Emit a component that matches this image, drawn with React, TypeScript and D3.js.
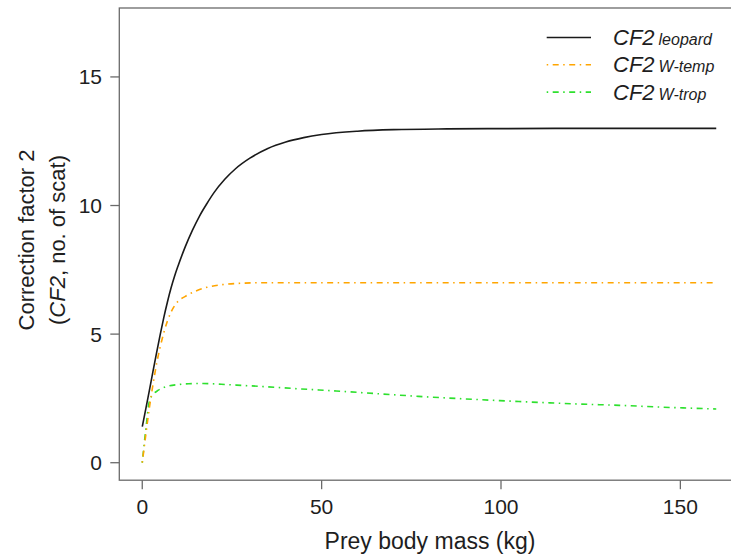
import React from "react";
import * as d3 from "d3";

// Prey body mass (kg) sample points and correction factor values per curve
const leopardMass = [0, 1, 2, 3, 4, 5, 6, 7, 8, 9, 10, 12, 14, 16, 18, 20, 23, 26, 30, 35, 40, 45, 50, 60, 70, 85, 100, 125, 160];
const leopardCF2 = [1.4, 2.1, 2.82, 3.56, 4.28, 4.98, 5.64, 6.24, 6.78, 7.25, 7.66, 8.4, 9.04, 9.6, 10.07, 10.5, 11.02, 11.43, 11.84, 12.22, 12.47, 12.64, 12.76, 12.89, 12.95, 12.98, 12.99, 13.0, 13.0];

const wTempMass = [0, 1, 2, 3, 4, 5, 6, 7, 8, 9, 10, 12, 15, 18, 22, 28, 35, 60, 100, 160];
const wTempCF2 = [0, 1.1, 2.15, 3.05, 3.85, 4.5, 5.05, 5.5, 5.85, 6.1, 6.28, 6.47, 6.68, 6.82, 6.92, 6.98, 7.0, 7.0, 7.0, 7.0];

const wTropMass = [0, 1, 2, 3, 4.5, 7, 10, 13, 17, 22, 26, 35, 44, 54, 66, 77, 90, 105, 120, 133, 145, 160];
const wTropCF2 = [0, 1.3, 2.4, 2.65, 2.82, 2.97, 3.04, 3.07, 3.08, 3.05, 3.02, 2.95, 2.87, 2.79, 2.68, 2.58, 2.48, 2.38, 2.29, 2.23, 2.16, 2.09];

const xTicks = [0, 50, 100, 150];
const yTicks = [0, 5, 10, 15];

const seriesNames = ["leopard", "W-temp", "W-trop"];
const seriesColors = ["#1a1a1a", "#FFA500", "#2ee02e"];
const seriesDash = [null, "1.5 4.5 6 4.5", "1.5 4.5 6 4.5"];

const W = 731;
const H = 560;
const font = "'Liberation Sans', Arial, Helvetica, sans-serif";

export default function App() {
  const x = d3.scaleLinear().domain([-6.4, 166.4]).range([119.3, 739.2]);
  const y = d3.scaleLinear().domain([-0.68, 17.68]).range([480.2, 8]);

  const line = d3
    .line<[number, number]>()
    .x((d) => x(d[0]))
    .y((d) => y(d[1]))
    .curve(d3.curveMonotoneX);

  const series = [
    d3.zip(leopardMass, leopardCF2) as [number, number][],
    d3.zip(wTempMass, wTempCF2) as [number, number][],
    d3.zip(wTropMass, wTropCF2) as [number, number][],
  ];

  const [x0, x1] = x.range();
  const [y0, y1] = y.range();
  const frame = "#6a6a6a";
  const textColor = "#1e1e1e";

  const legendY = [37.5, 64.8, 92.1];

  return (
    <svg
      width={W}
      height={H}
      style={{ position: "absolute", left: 0, top: 0, background: "#fff" }}
      fontFamily={font}
    >
      <rect x={0} y={0} width={W} height={H} fill="#fff" />

      {/* curves, drawn last-to-first so the solid line sits on top */}
      {series
        .map((s, i) => (
          <path
            key={seriesNames[i]}
            d={line(s) || ""}
            fill="none"
            stroke={seriesColors[i]}
            strokeWidth={1.6}
            strokeDasharray={seriesDash[i] || undefined}
          />
        ))
        .reverse()}

      {/* plot frame */}
      <rect
        x={x0}
        y={y1}
        width={x1 - x0}
        height={y0 - y1}
        fill="none"
        stroke={frame}
        strokeWidth={1.3}
      />

      {/* x axis */}
      {xTicks.map((t) => (
        <g key={"x" + t}>
          <line x1={x(t)} x2={x(t)} y1={y0} y2={y0 + 9} stroke={frame} strokeWidth={1.3} />
          <text x={x(t)} y={513.5} textAnchor="middle" fontSize={21} fill={textColor}>
            {t}
          </text>
        </g>
      ))}

      {/* y axis */}
      {yTicks.map((t) => (
        <g key={"y" + t}>
          <line x1={x0 - 9} x2={x0} y1={y(t)} y2={y(t)} stroke={frame} strokeWidth={1.3} />
          <text x={102} y={y(t) + 7.5} textAnchor="end" fontSize={21} fill={textColor}>
            {t}
          </text>
        </g>
      ))}

      {/* axis titles */}
      <text x={430} y={548.5} textAnchor="middle" fontSize={23} fill={textColor}>
        Prey body mass (kg)
      </text>
      <g transform="translate(33.5,240) rotate(-90)">
        <text x={0} y={0} textAnchor="middle" fontSize={22} fill={textColor}>
          Correction factor 2
        </text>
      </g>
      <g transform="translate(65,240) rotate(-90)">
        <text x={0} y={0} textAnchor="middle" fontSize={22} fill={textColor}>
          (<tspan fontStyle="italic">CF2</tspan>, no. of scat)
        </text>
      </g>

      {/* legend */}
      {seriesNames.map((name, i) => (
        <g key={"leg" + name}>
          <line
            x1={546.7}
            x2={591}
            y1={legendY[i]}
            y2={legendY[i]}
            stroke={seriesColors[i]}
            strokeWidth={1.6}
            strokeDasharray={seriesDash[i] || undefined}
          />
          <text x={613} y={legendY[i] + 7.5} fontSize={22} fill={textColor} fontStyle="italic">
            CF2
            <tspan fontSize={16} dx={4}>
              {name}
            </tspan>
          </text>
        </g>
      ))}
    </svg>
  );
}
